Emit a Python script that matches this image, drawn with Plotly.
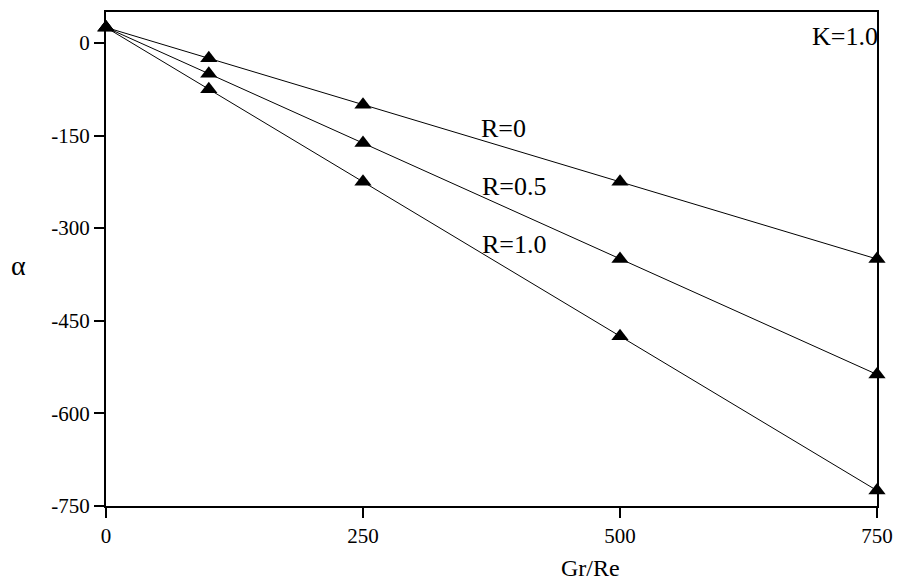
import plotly.graph_objects as go

gr_re = [0, 100, 250, 500, 750]
alpha_R0 = [25, -25, -100, -225, -350]
alpha_R05 = [25, -50, -162, -350, -537]
alpha_R10 = [25, -75, -225, -475, -725]
series_names = ["R=0", "R=0.5", "R=1.0"]

y_tickvals = [0, -150, -300, -450, -600, -750]
y_ticktext = ["0", "-150", "-300", "-450", "-600", "-750"]
x_tickvals = [0, 250, 500, 750]
x_ticktext = ["0", "250", "500", "750"]

FONT = "Liberation Serif, Times New Roman, serif"

fig = go.Figure()
for name, vals in zip(series_names, [alpha_R0, alpha_R05, alpha_R10]):
    fig.add_trace(go.Scatter(
        x=gr_re, y=vals, mode="lines+markers", name=name,
        line=dict(color="black", width=1),
        marker=dict(symbol="triangle-up", size=15, color="black", line=dict(width=0)),
        cliponaxis=False, showlegend=False,
    ))

label_pos = {"R=0": (363, -138), "R=0.5": (364, -233), "R=1.0": (364, -327)}
for name, (lx, ly) in label_pos.items():
    fig.add_annotation(x=lx, y=ly, text=name, showarrow=False, xanchor="left", yanchor="middle",
                       font=dict(family=FONT, size=26, color="black"))

fig.add_annotation(x=1.0, y=10, xref="paper", yref="y", xshift=3, text="K=1.0", showarrow=False,
                   xanchor="right", yanchor="middle",
                   font=dict(family=FONT, size=26, color="black"))
fig.add_annotation(x=0.628, y=-0.125, xref="paper", yref="paper", text="Gr/Re", showarrow=False,
                   xanchor="center", yanchor="middle", font=dict(family=FONT, size=24, color="black"))
fig.add_annotation(x=-0.114, y=0.486, xref="paper", yref="paper", text="α", showarrow=False,
                   xanchor="center", yanchor="middle", font=dict(family=FONT, size=28, color="black"))

# page body has an 8px default margin; compensate so the plot lands at the reference position
fig.update_layout(
    width=893, height=578,
    margin=dict(l=98, r=24, t=2, b=80),
    paper_bgcolor="white", plot_bgcolor="white",
    font=dict(family=FONT, size=21, color="black"),
)
fig.update_xaxes(range=[0, 750], tickvals=x_tickvals, ticktext=x_ticktext,
                 showgrid=False, zeroline=False, showline=True, linecolor="black", linewidth=2,
                 mirror=True, ticks="outside", ticklen=10, tickwidth=2, tickcolor="black")
fig.update_yaxes(range=[-750, 50], tickvals=y_tickvals, ticktext=y_ticktext,
                 showgrid=False, zeroline=False, showline=True, linecolor="black", linewidth=2,
                 mirror=True, ticks="outside", ticklen=10, tickwidth=2, tickcolor="black")

fig.write_html("out.html")
